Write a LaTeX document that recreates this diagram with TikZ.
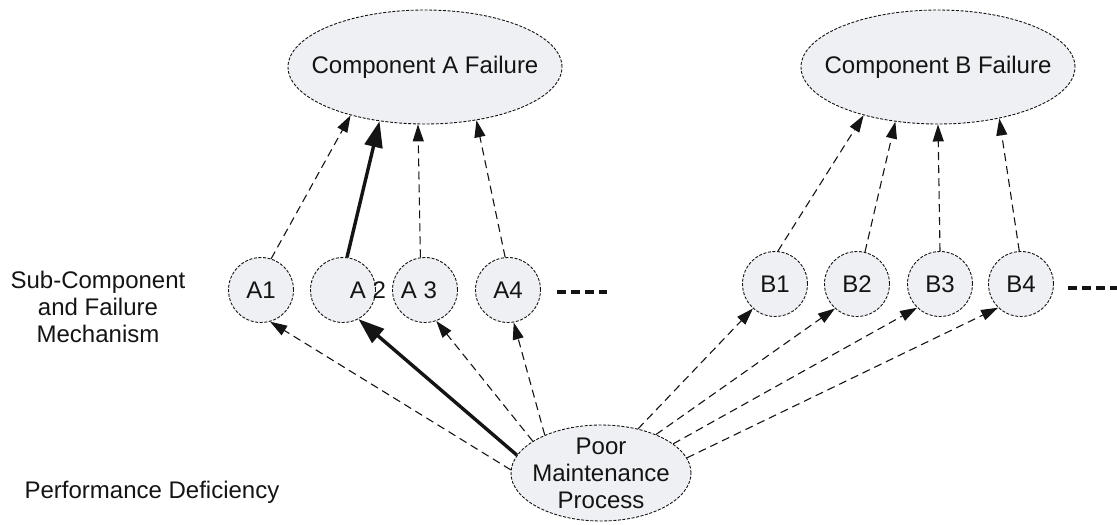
\documentclass[tikz,border=0pt]{standalone}
\usepackage{fontspec}
\setmainfont{Liberation Sans}
\usetikzlibrary{arrows.meta,shapes.geometric}
\definecolor{nodefill}{RGB}{238,240,244}
\definecolor{ink}{RGB}{20,20,20}
\begin{document}
\begin{tikzpicture}[x=1pt,y=-1pt,
  every node/.style={font=\fontsize{24}{27}\selectfont, text=ink},
  bubble/.style={draw=ink, line width=0.9pt, dash pattern=on 3pt off 1.6pt, fill=nodefill, inner sep=0pt},
  topell/.style={bubble, ellipse, minimum width=274pt, minimum height=114pt},
  subc/.style={bubble, circle, minimum size=65pt},
  link/.style={draw=ink, line width=1.1pt, dash pattern=on 8pt off 5pt, -{Triangle[length=17pt,width=11pt]}},
  strong/.style={draw=ink, line width=3.4pt, -{Triangle[length=26pt,width=18pt]}},
  more/.style={draw=ink, line width=4pt, dash pattern=on 9pt off 5pt}
]
\useasboundingbox (0,0) rectangle (1117,525);

% top ellipses
\node[topell, label={center:Component A Failure}] (EA) at (425,67) {};
\node[topell, label={center:Component B Failure}] (EB) at (938,67) {};

% sub-components
\node[subc] (A1) at (261,290) {A1};
\node[subc, label={[xshift=25pt]center:A 2}] (A2) at (343,290) {};
\node[subc, label={[xshift=-6pt]center:A 3}] (A3) at (425,290) {};
\node[subc] (A4) at (508,290) {A4};
\node[subc] (B1) at (775,284) {B1};
\node[subc] (B2) at (857,284) {B2};
\node[subc] (B3) at (940,284) {B3};
\node[subc] (B4) at (1021,284) {B4};

% bottom ellipse
\node[bubble, ellipse, minimum width=180pt, minimum height=96pt,
      label={[align=center]center:{Poor\\Maintenance\\Process}}] (PM) at (601,473) {};

% left labels
\node[align=center] (lab1) at (98,307) {Sub-Component\\and Failure\\Mechanism};
\node (lab2) at (152,492) {Performance Deficiency};

% continuation marks
\coordinate (ma) at (557,292);
\coordinate (mb) at (607,292);
\coordinate (mc) at (1068,288);
\coordinate (md) at (1117,288);
\draw[more] (ma) -- (mb);
\draw[more] (mc) -- (md);

% sub-components to components
\draw[link] (A1.72) -- (EA.213);
\draw[strong] (A2.83) -- (EA.230);
\draw[link] (A3.98) -- (EA.263);
\draw[link] (A4.95) -- (EA.-46);
\draw[link] (B1.85) -- (EB.213);
\draw[link] (B2.76) -- (EB.232);
\draw[link] (B3.north) -- (EB.270);
\draw[link] (B4.93) -- (EB.-40);

% process to sub-components
\draw[link] (PM.178) -- (A1.-74);
\draw[strong] (PM.168) -- (A2.-62);
\draw[link] (PM.155) -- (A3.-70);
\draw[link] (PM.146) -- (A4.-80);
\draw[link] (PM.50) -- (B1.-132);
\draw[link] (PM.35) -- (B2.-132);
\draw[link] (PM.22) -- (B3.-134);
\draw[link] (PM.10) -- (B4.-134);
\end{tikzpicture}
\end{document}
